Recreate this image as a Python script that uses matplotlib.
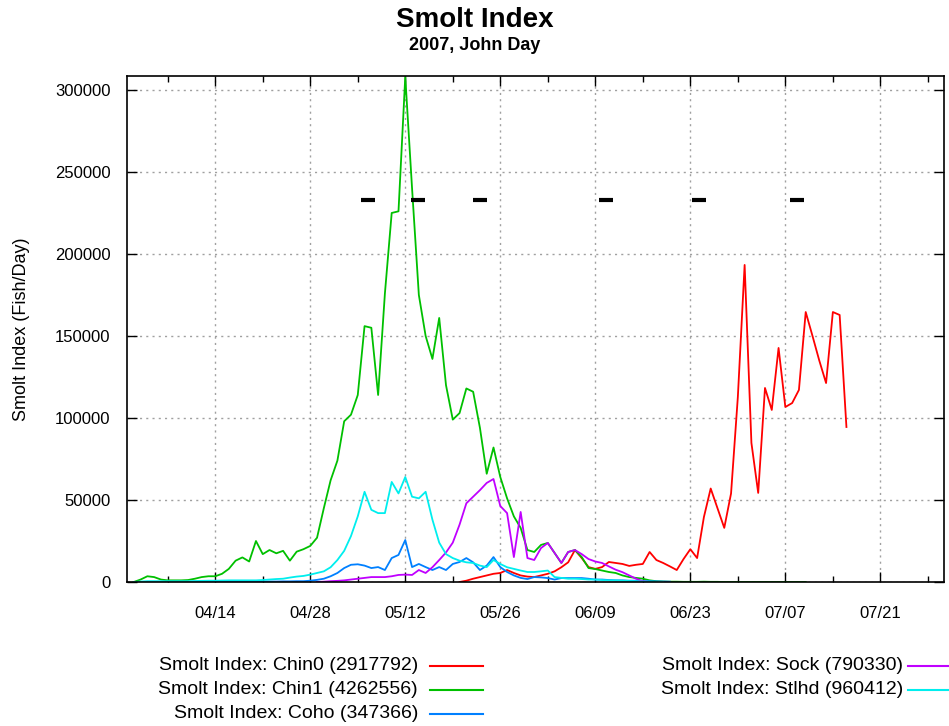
import matplotlib
matplotlib.use('Agg')
import matplotlib.pyplot as plt
import matplotlib.dates as mdates
from matplotlib import font_manager
from matplotlib.lines import Line2D
import numpy as np

# day 0 = 2007-04-01, one value per day
start = np.datetime64('2007-04-01')

chin0_first = 49
chin0 = [0, 800, 2000, 3000, 4000, 5000, 5500, 7300, 5500, 4000,
         3300, 3000, 4000, 5000, 6500, 9000, 12000, 19500, 14600, 9100,
         8000, 9100, 12200, 11600, 11000, 9800, 10500, 11000, 18300, 13400,
         11600, 9500, 7300, 14000, 20000, 14600, 39600, 57000, 45000, 33000,
         54000, 112800, 193300, 84800, 54300, 118300, 104900, 142700, 106700, 109100,
         117100, 164600, 150000, 135000, 121300, 164600, 162800, 94500]

chin1_first = 1
chin1 = [0, 1500, 3500, 3000, 1500, 1000, 1000, 1000, 1200, 2000,
         3000, 3500, 3500, 5000, 8000, 13000, 15000, 12500, 25000, 17000,
         19500, 17500, 19000, 13000, 18500, 20000, 22000, 27000, 45000, 62000,
         74000, 98000, 102000, 114000, 156000, 155000, 114000, 176000, 225000, 226000,
         308000, 240000, 175000, 150000, 136000, 161000, 120000, 99000, 103000, 118000,
         116000, 94000, 66000, 82000, 64000, 51000, 40000, 33000, 19500, 18300,
         22600, 23800, 17700, 11600, 18300, 19500, 15200, 8500, 7900, 7000,
         6100, 5500, 4000, 3000, 2500, 2000, 1000, 500, 300, 200,
         200, 100, 100, 100, 200, 100, 100, 0, 0, 0,
         0, 0, 0, 0, 0, 0, 0, 0, 0, 0]

coho_first = 1
coho = [0, 0, 100, 100, 100, 100, 100, 100, 100, 200,
        200, 200, 200, 200, 300, 300, 300, 300, 300, 300,
        300, 300, 400, 400, 500, 500, 800, 1300, 2000, 3500,
        5500, 8500, 10500, 10800, 10000, 8500, 9100, 7300, 14600, 16500,
        25600, 9100, 11000, 9100, 7300, 9100, 7300, 11000, 12200, 14600,
        12000, 7300, 10000, 15200, 9100, 6100, 4000, 2500, 1800, 3000,
        2800, 2400, 1500, 2400, 2400, 2400, 2400, 2000, 1500, 1500,
        1200, 1000, 1000, 800, 800, 600, 500, 400, 300, 200]

sock_first = 28
sock = [0, 200, 500, 700, 1000, 1500, 2000, 2500, 3000, 3000,
        3000, 3500, 4300, 4500, 4300, 7300, 5500, 9000, 13400, 18000,
        24000, 35000, 48000, 52000, 56000, 60400, 62800, 46300, 42000, 15200,
        42700, 14600, 13400, 20700, 23800, 17700, 11600, 18300, 19500, 17000,
        14000, 12500, 11600, 9500, 7500, 6000, 4000, 2000, 500, 0]

stlhd_first = 1
stlhd = [0, 300, 500, 500, 500, 500, 500, 500, 500, 600,
         700, 800, 800, 900, 1000, 1000, 1000, 1000, 1000, 1200,
         1500, 1800, 2000, 2700, 3300, 3700, 4500, 5500, 6500, 9000,
         13400, 19000, 28000, 40000, 55000, 44000, 42000, 42000, 61000, 54000,
         64000, 52000, 51000, 55000, 38000, 24000, 17000, 14600, 13000, 12000,
         11600, 10000, 9100, 13400, 11000, 9000, 8000, 7000, 6100, 6100,
         6500, 7000, 3000, 2500, 2000, 2000, 1800, 1500, 1500, 1200,
         1000, 1000, 800, 600, 500, 300, 200, 100, 0]

marker_days = [35.5, 42.9, 52.0, 70.6, 84.3, 98.7]
marker_value = 233000

labels = ['Smolt Index: Chin0 (2917792)', 'Smolt Index: Chin1 (4262556)',
          'Smolt Index: Coho (347366)', 'Smolt Index: Sock (790330)',
          'Smolt Index: Stlhd (960412)']
colors = ['#ff0000', '#00c000', '#0080ff', '#c000ff', '#00eeee']

# font
names = set(f.name for f in font_manager.fontManager.ttflist)
fam = 'Liberation Sans' if 'Liberation Sans' in names else 'DejaVu Sans'
plt.rcParams['font.family'] = [fam, 'DejaVu Sans']


def days_to_dates(first, vals):
    return start + np.arange(first, first + len(vals)).astype('timedelta64[D]')


fig = plt.figure(figsize=(9.49, 7.26), dpi=100)
ax = fig.add_axes([127/949, 1 - 582/726, (944-127)/949, (582-76)/726])

series = [(chin0_first, chin0), (chin1_first, chin1), (coho_first, coho),
          (sock_first, sock), (stlhd_first, stlhd)]
for (first, vals), c in zip(series, colors):
    ax.plot(days_to_dates(first, vals), vals, color=c, lw=1.3)

mx = start + (np.array(marker_days) * 24).astype(int).astype('timedelta64[h]')
ax.plot(mx, [marker_value] * len(mx), ls='none', marker='_', ms=10, mew=3,
        color='black')

ax.set_xlim(start, start + np.timedelta64(int(120.4 * 24), 'h'))
ax.set_ylim(0, 308500)

ticks = start + np.arange(13, 121, 14).astype('timedelta64[D]')
minor = start + np.arange(6, 121, 7).astype('timedelta64[D]')
ax.set_xticks(ticks)
ax.set_xticks(minor, minor=True)
ax.xaxis.set_major_formatter(mdates.DateFormatter('%m/%d'))
ax.set_yticks(np.arange(0, 300001, 50000))
ax.yaxis.set_major_formatter(matplotlib.ticker.FuncFormatter(lambda v, p: '%d' % v))

ax.tick_params(which='both', direction='in', top=True, right=True, labelsize=12)
ax.tick_params(which='major', length=7, width=1)
ax.tick_params(which='minor', length=4, width=1)
ax.tick_params(axis='x', which='major', pad=17)
ax.tick_params(axis='y', which='major', pad=12)

ax.grid(True, which='major', color='#a0a0a0', linestyle=(0, (1.5, 3)), lw=1)
for s in ax.spines.values():
    s.set_linewidth(1.2)

ax.set_ylabel('Smolt Index (Fish/Day)', fontsize=13, labelpad=18)

fig.text(0.5, 1 - 20/726, 'Smolt Index', ha='center', va='center',
         fontsize=20, fontweight='bold')
fig.text(0.5, 1 - 45/726, '2007, John Day', ha='center', va='center',
         fontsize=13, fontweight='bold')

# legend, gnuplot style: right aligned text then sample line
rows = [666, 690, 714]
cols = [(418, 430, 483), (903, 908, 960)]
for i, (lab, c) in enumerate(zip(labels, colors)):
    tx, l0, l1 = cols[i // 3]
    y = 1 - rows[i % 3] / 726
    fig.text(tx / 949, y, lab, ha='right', va='center', fontsize=14)
    fig.add_artist(Line2D([l0 / 949, l1 / 949], [y, y], color=c, lw=1.5,
                          transform=fig.transFigure))

fig.savefig('out.png', dpi=100)
